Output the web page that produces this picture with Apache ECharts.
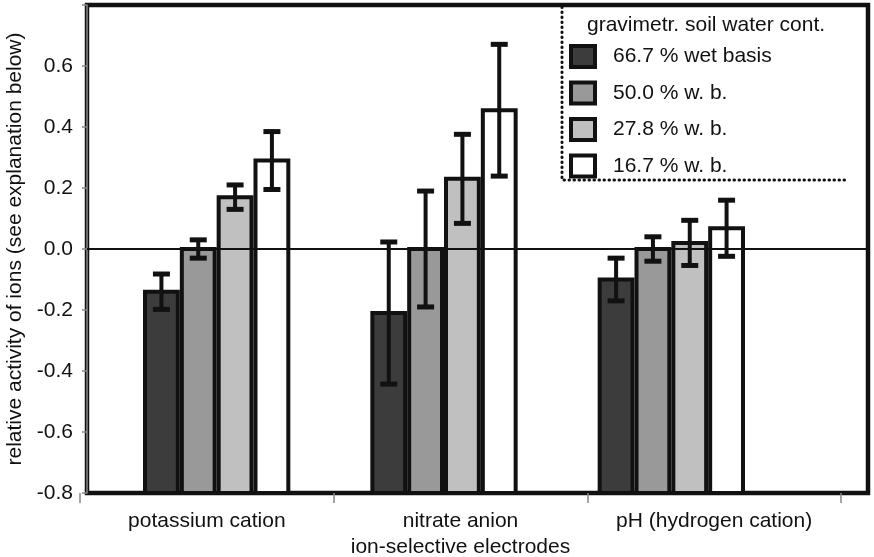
<!DOCTYPE html>
<html>
<head>
<meta charset="utf-8">
<script src="https://cdn.jsdelivr.net/npm/echarts@6/dist/echarts.min.js"></script>
<style>
html,body{margin:0;padding:0;background:#fff;}
#chart{width:874px;height:557px;}
</style>
</head>
<body>
<div id="chart"></div>
<script>
// ---- data ----
const categories = ['potassium cation', 'nitrate anion', 'pH (hydrogen cation)'];
const seriesNames = ['66.7 % wet basis', '50.0 % w. b.', '27.8 % w. b.', '16.7 % w. b.'];
const wet667 = [-0.14, -0.21, -0.10];
const wet500 = [0.00, 0.00, 0.00];
const wet278 = [0.17, 0.23, 0.02];
const wet167 = [0.29, 0.455, 0.068];
const err667 = [0.058, 0.233, 0.07];
const err500 = [0.03, 0.19, 0.04];
const err278 = [0.04, 0.146, 0.074];
const err167 = [0.095, 0.216, 0.092];
const yTickLabels = ['-0.8', '-0.6', '-0.4', '-0.2', '0.0', '0.2', '0.4', '0.6', ''];
const legendTitle = 'gravimetr. soil water cont.';
const yAxisTitle = 'relative activity of ions (see explanation below)';
const xAxisTitle = 'ion-selective electrodes';

const values = [wet667, wet500, wet278, wet167];
const errors = [err667, err500, err278, err167];
const fills = ['#3c3c3c', '#999999', '#c0c0c0', '#ffffff'];
const INK = '#111111';
const Y_MIN = -0.8, Y_MAX = 0.8;
const FONT = 'Liberation Sans, Arial, sans-serif';
const FS = 21;

function makeRender(k) {
  return function (params, api) {
    const cat = api.value(0), v = api.value(1), e = api.value(2);
    const band = api.size([1, 0])[0];
    const barW = band * 0.162;
    const top = api.coord([cat, v]);
    const cx = top[0] + (k - 1.5) * barW;
    const yBot = api.coord([cat, Y_MIN])[1];
    const yHi = api.coord([cat, v + e])[1];
    const yLo = api.coord([cat, v - e])[1];
    const capW = 8.5;
    return {
      type: 'group',
      children: [
        { type: 'rect', shape: { x: cx - barW / 2 + 2, y: top[1], width: barW - 4, height: yBot - top[1] },
          style: { fill: fills[k], stroke: INK, lineWidth: 4 } },
        { type: 'line', shape: { x1: cx, y1: yHi, x2: cx, y2: yLo }, style: { stroke: INK, lineWidth: 4 } },
        { type: 'line', shape: { x1: cx - capW, y1: yHi, x2: cx + capW, y2: yHi }, style: { stroke: INK, lineWidth: 5 } },
        { type: 'line', shape: { x1: cx - capW, y1: yLo, x2: cx + capW, y2: yLo }, style: { stroke: INK, lineWidth: 5 } }
      ]
    };
  };
}

const barSeries = seriesNames.map((name, k) => ({
  name: name,
  type: 'custom',
  xAxisIndex: 1,
  yAxisIndex: 1,
  renderItem: makeRender(k),
  encode: { x: 0, y: 1 },
  itemStyle: { color: fills[k], borderColor: INK, borderWidth: 4 },
  clip: false,
  z: 3,
  data: categories.map((c, i) => [i, values[k][i], errors[k][i]])
}));

const chart = echarts.init(document.getElementById('chart'), null, { renderer: 'canvas' });
chart.setOption({
  animation: false,
  backgroundColor: '#ffffff',
  textStyle: { fontFamily: FONT },
  title: {
    text: legendTitle,
    left: 582, top: 10,
    textStyle: { fontSize: FS, fontWeight: 'normal', color: INK, fontFamily: FONT }
  },
  legend: {
    data: seriesNames,
    orient: 'vertical',
    left: 564, top: 39,
    icon: 'rect',
    itemWidth: 24, itemHeight: 21,
    itemGap: 11.5,
    itemStyle: { borderColor: INK, borderWidth: 4 },
    textStyle: { fontSize: FS, lineHeight: 22, color: INK, fontFamily: FONT, padding: [0, 0, 0, 13] },
    selectedMode: false
  },
  graphic: [{
    type: 'polyline',
    shape: { points: [[562, 7], [562, 180], [846, 180]] },
    style: { stroke: INK, lineWidth: 3, lineDash: [0.5, 4.5], lineCap: 'round', fill: null },
    z: 10
  }],
  grid: [
    { left: 87, right: 6, top: 5, bottom: 64, show: true, borderColor: INK, borderWidth: 4.5, backgroundColor: 'transparent', outerBoundsMode: 'none', containLabel: false },
    { left: 103, right: 89, top: 5, bottom: 64, outerBoundsMode: 'none', containLabel: false },
    { left: 80, right: 33, top: 5, bottom: 64, outerBoundsMode: 'none', containLabel: false }
  ],
  xAxis: [
    { gridIndex: 0, type: 'value', min: 0, max: 1, show: false },
    { gridIndex: 1, type: 'category', data: categories, show: false },
    { gridIndex: 2, type: 'category', data: categories, position: 'bottom',
      axisLine: { show: false, onZero: false },
      axisTick: { show: true, inside: false, interval: 0, length: 10, lineStyle: { color: '#888', width: 1.5 } },
      axisLabel: { fontSize: FS, color: INK, margin: 18, fontFamily: FONT, interval: 0, hideOverlap: false },
      name: xAxisTitle, nameLocation: 'middle', nameGap: 42,
      nameTextStyle: { fontSize: FS, color: INK, fontFamily: FONT } }
  ],
  yAxis: [
    { gridIndex: 0, type: 'value', min: Y_MIN, max: Y_MAX, interval: 0.2, offset: 6,
      axisLine: { show: true, lineStyle: { color: '#888', width: 1.5 } },
      axisTick: { show: true, length: 5, lineStyle: { color: '#888', width: 1.5 } },
      splitLine: { show: false },
      axisLabel: { fontSize: FS, color: INK, margin: 8, fontFamily: FONT,
        formatter: (val, idx) => yTickLabels[idx] },
      name: yAxisTitle, nameLocation: 'middle', nameGap: 51,
      nameTextStyle: { fontSize: FS, color: INK, fontFamily: FONT } },
    { gridIndex: 1, type: 'value', min: Y_MIN, max: Y_MAX, show: false },
    { gridIndex: 2, type: 'value', min: Y_MIN, max: Y_MAX, show: false }
  ],
  series: barSeries.concat([{
    name: 'zero',
    type: 'line',
    xAxisIndex: 0, yAxisIndex: 0,
    data: [],
    z: 5,
    markLine: {
      silent: true, symbol: 'none', label: { show: false },
      lineStyle: { color: INK, width: 2, type: 'solid' },
      data: [{ yAxis: 0 }]
    }
  }])
});
</script>
</body>
</html>
